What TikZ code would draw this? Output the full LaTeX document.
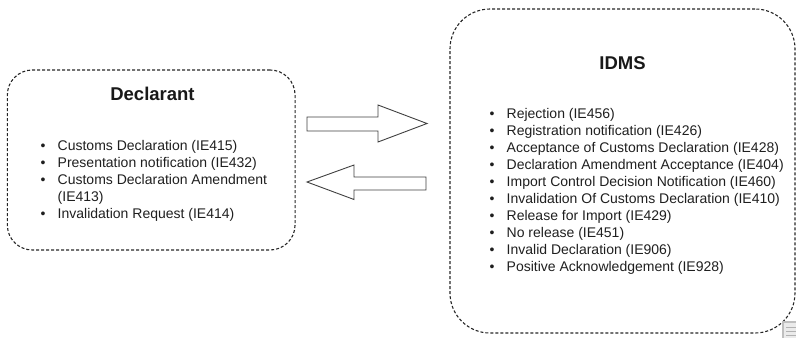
\documentclass[tikz,border=0pt]{standalone}
\usepackage{fontspec}
\setmainfont{Liberation Sans}
\newcommand\blt{\makebox[17pt][l]{•}}
\begin{document}
\begin{tikzpicture}[x=1pt,y=-1pt,
  box/.style={draw=black!85, dash pattern=on 3pt off 2pt, line width=1.1pt, inner sep=0pt},
  titletext/.style={font=\fontsize{18.5}{22}\selectfont\bfseries, anchor=base, inner sep=0pt, text=black!90},
  listtext/.style={font=\fontsize{14}{17}\selectfont, anchor=base west, inner sep=0pt, text=black!88},
  fatarrow/.style={draw=black!75, fill=white, line width=0.9pt, line join=miter}]
\useasboundingbox (0,0) rectangle (796,338);
% boxes
\node[box, rounded corners=25pt, minimum width=287.7pt, minimum height=180pt] (declbox) at (151.2,160) {};
\node[box, rounded corners=40pt, minimum width=345pt, minimum height=324pt] (idmsbox) at (622.5,171) {};
% titles
\node[titletext] (decltitle) at (152.5,100) {Declarant};
\node[titletext] (idmstitle) at (622.5,69) {IDMS};
% lists
\node[listtext] (decllist) at (40.5,150) {\begin{tabular}[t]{@{}l@{}}
\blt Customs Declaration (IE415)\\
\blt Presentation notification (IE432)\\
\blt Customs Declaration Amendment\\
\hspace*{17pt}(IE413)\\
\blt Invalidation Request (IE414)
\end{tabular}};
\node[listtext] (idmslist) at (489.5,118) {\begin{tabular}[t]{@{}l@{}}
\blt Rejection (IE456)\\
\blt Registration notification (IE426)\\
\blt Acceptance of Customs Declaration (IE428)\\
\blt Declaration Amendment Acceptance (IE404)\\
\blt Import Control Decision Notification (IE460)\\
\blt Invalidation Of Customs Declaration (IE410)\\
\blt Release for Import (IE429)\\
\blt No release (IE451)\\
\blt Invalid Declaration (IE906)\\
\blt Positive Acknowledgement (IE928)
\end{tabular}};
% block arrows
\draw[fatarrow] (307,117) -- (378,117) -- (378,105) -- (427,123.5) -- (378,142) -- (378,131) -- (307,131) -- cycle;
\draw[fatarrow] (426,177) -- (354,177) -- (354,165) -- (307,182) -- (354,199.5) -- (354,190) -- (426,190) -- cycle;
% corner icon
\fill[black!25] (782,321) rectangle (796,338);
\fill[black!8] (784,323) rectangle (796,338);
\draw[black!30, line width=1pt] (786,327) -- (796,327) (786,331) -- (796,331) (786,335) -- (796,335);
\end{tikzpicture}
\end{document}
